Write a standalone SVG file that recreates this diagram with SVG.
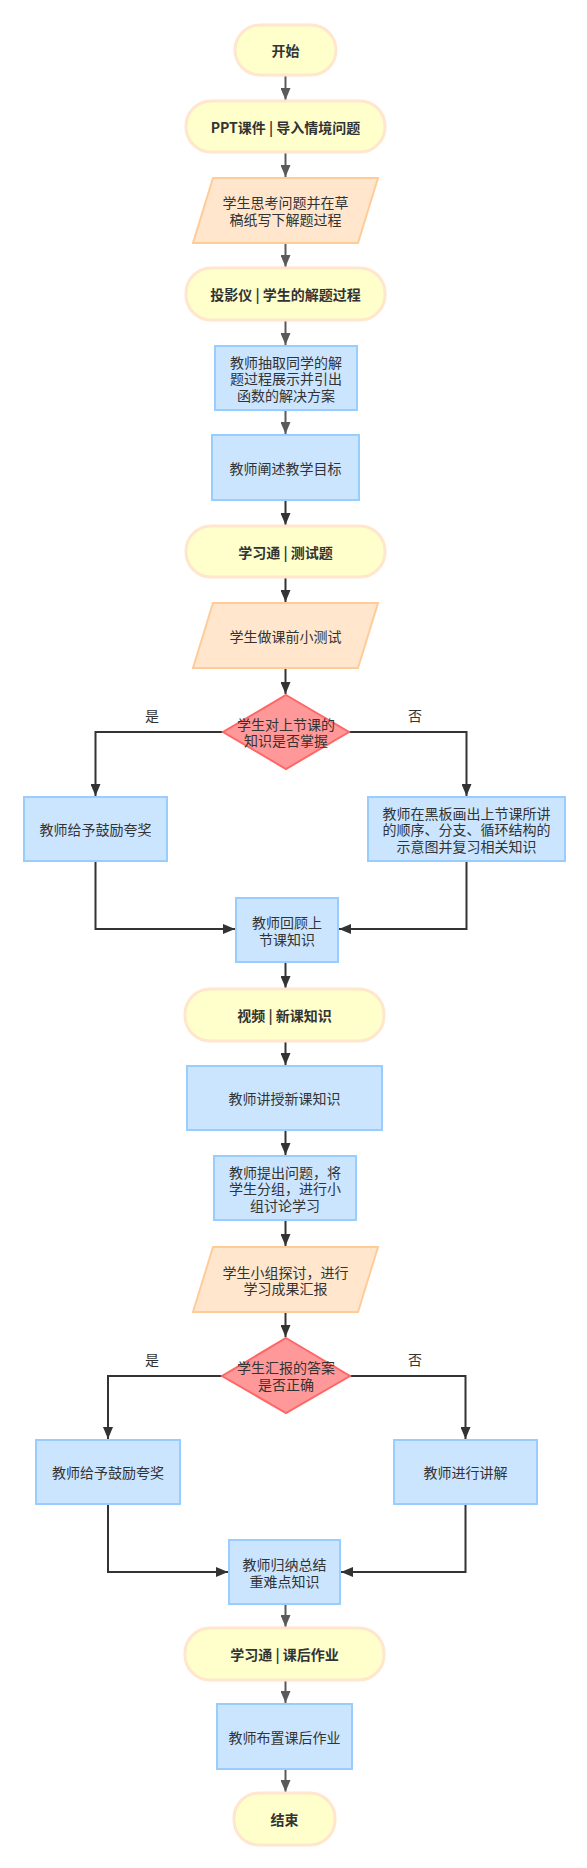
<svg xmlns="http://www.w3.org/2000/svg" width="587" height="1868" viewBox="0 0 587 1868">
<defs>
<style>
text{font-family:"Noto Sans CJK SC","Liberation Sans",sans-serif;font-size:14px;fill:#333;text-anchor:middle;dominant-baseline:central}
.b{font-weight:bold}
.term{fill:#FFFFCC;stroke:#FFE6CC;stroke-width:3}
.io{fill:#FFE6CC;stroke:#FFCC99;stroke-width:2}
.proc{fill:#CCE5FF;stroke:#99CCFF;stroke-width:2}
.dec{fill:#FF9999;stroke:#FF6666;stroke-width:2}
.g{fill:none;stroke:#5a5a5a;stroke-width:2;marker-end:url(#ag)}
.d{fill:none;stroke:#333;stroke-width:2;marker-end:url(#ad)}
</style>
<marker id="ag" markerUnits="userSpaceOnUse" markerWidth="12" markerHeight="10" refX="12" refY="5" orient="auto"><path d="M0,0 L12,5 L0,10 z" fill="#5a5a5a"/></marker>
<marker id="ad" markerUnits="userSpaceOnUse" markerWidth="12" markerHeight="10" refX="12" refY="5" orient="auto"><path d="M0,0 L12,5 L0,10 z" fill="#333"/></marker>
</defs>
<rect width="587" height="1868" fill="#fff"/>
<g id="connectors">
<path class="g" d="M285.5,75 V100"/>
<path class="g" d="M285.5,152 V177"/>
<path class="g" d="M285.5,243 V267"/>
<path class="g" d="M285.5,320 V345"/>
<path class="g" d="M285.5,410 V434"/>
<path class="d" d="M285.5,500 V525"/>
<path class="d" d="M285.5,577 V602"/>
<path class="d" d="M285.5,668 V694"/>
<path class="d" d="M223,732 H95.5 V796"/>
<path class="d" d="M349,732 H466.5 V796"/>
<path class="d" d="M95.5,861 V929 H235"/>
<path class="d" d="M466.5,861 V929 H339"/>
<path class="d" d="M285.5,962 V988"/>
<path class="d" d="M285.5,1041 V1065"/>
<path class="d" d="M285.5,1130 V1155"/>
<path class="d" d="M285.5,1220 V1246"/>
<path class="d" d="M285.5,1312 V1337"/>
<path class="d" d="M222,1376 H108 V1439"/>
<path class="d" d="M350,1376 H465.5 V1439"/>
<path class="d" d="M108,1504 V1572 H228"/>
<path class="d" d="M465.5,1504 V1572 H341"/>
<path class="g" d="M285.5,1604 V1627"/>
<path class="g" d="M285.5,1680 V1703"/>
<path class="g" d="M285.5,1769 V1792"/>
<text x="152" y="715">是</text>
<text x="415" y="715">否</text>
<text x="152" y="1359">是</text>
<text x="415" y="1359">否</text>
</g>
<g id="n1"><rect class="term" x="235" y="25" width="101" height="50" rx="25"/><text class="b" x="285.5" y="50">开始</text></g>
<g id="n2"><rect class="term" x="186" y="101" width="199" height="51" rx="25"/><text class="b" x="285.5" y="126.5">PPT课件 | 导入情境问题</text></g>
<g id="n3"><polygon class="io" points="213,178 378,178 358,243 193,243"/><text x="285.5" y="202">学生思考问题并在草</text><text x="285.5" y="219">稿纸写下解题过程</text></g>
<g id="n4"><rect class="term" x="186" y="268" width="199" height="52" rx="25"/><text class="b" x="285.5" y="294">投影仪 | 学生的解题过程</text></g>
<g id="n5"><rect class="proc" x="215" y="346" width="142" height="64"/><text x="286" y="361.5">教师抽取同学的解</text><text x="286" y="378">题过程展示并引出</text><text x="286" y="394.5">函数的解决方案</text></g>
<g id="n6"><rect class="proc" x="212" y="435" width="147" height="65"/><text x="285.5" y="467.5">教师阐述教学目标</text></g>
<g id="n7"><rect class="term" x="186" y="526" width="199" height="51" rx="25"/><text class="b" x="285.5" y="551.5">学习通 | 测试题</text></g>
<g id="n8"><polygon class="io" points="213,603 378,603 358,668 193,668"/><text x="285.5" y="635.5">学生做课前小测试</text></g>
<g id="n9"><polygon class="dec" points="286,695 349,732 286,769 223,732"/><text x="286" y="723.5">学生对上节课的</text><text x="286" y="740">知识是否掌握</text></g>
<g id="n10"><rect class="proc" x="24" y="797" width="143" height="64"/><text x="95.5" y="829">教师给予鼓励夸奖</text></g>
<g id="n11"><rect class="proc" x="368" y="797" width="197" height="64"/><text x="466.5" y="812.5">教师在黑板画出上节课所讲</text><text x="466.5" y="829">的顺序、分支、循环结构的</text><text x="466.5" y="845.5">示意图并复习相关知识</text></g>
<g id="n12"><rect class="proc" x="236" y="898" width="102" height="64"/><text x="287" y="921.5">教师回顾上</text><text x="287" y="938.5">节课知识</text></g>
<g id="n13"><rect class="term" x="185" y="989" width="199" height="52" rx="25"/><text class="b" x="284.5" y="1015">视频 | 新课知识</text></g>
<g id="n14"><rect class="proc" x="187" y="1066" width="195" height="64"/><text x="284.5" y="1098">教师讲授新课知识</text></g>
<g id="n15"><rect class="proc" x="214" y="1156" width="142" height="64"/><text x="285" y="1171.5">教师提出问题，将</text><text x="285" y="1188">学生分组，进行小</text><text x="285" y="1204.5">组讨论学习</text></g>
<g id="n16"><polygon class="io" points="213,1247 378,1247 358,1312 193,1312"/><text x="285.5" y="1271.5">学生小组探讨，进行</text><text x="285.5" y="1288">学习成果汇报</text></g>
<g id="n17"><polygon class="dec" points="286,1338 350,1376 286,1413 222,1376"/><text x="286" y="1367">学生汇报的答案</text><text x="286" y="1384">是否正确</text></g>
<g id="n18"><rect class="proc" x="36" y="1440" width="144" height="64"/><text x="108" y="1472">教师给予鼓励夸奖</text></g>
<g id="n19"><rect class="proc" x="394" y="1440" width="143" height="64"/><text x="465.5" y="1472">教师进行讲解</text></g>
<g id="n20"><rect class="proc" x="229" y="1540" width="111" height="64"/><text x="284.5" y="1564">教师归纳总结</text><text x="284.5" y="1581">重难点知识</text></g>
<g id="n21"><rect class="term" x="185" y="1628" width="199" height="52" rx="25"/><text class="b" x="284.5" y="1654">学习通 | 课后作业</text></g>
<g id="n22"><rect class="proc" x="217" y="1704" width="135" height="65"/><text x="284.5" y="1736.5">教师布置课后作业</text></g>
<g id="n23"><rect class="term" x="234" y="1793" width="101" height="52" rx="25"/><text class="b" x="284.5" y="1819">结束</text></g>
</svg>
